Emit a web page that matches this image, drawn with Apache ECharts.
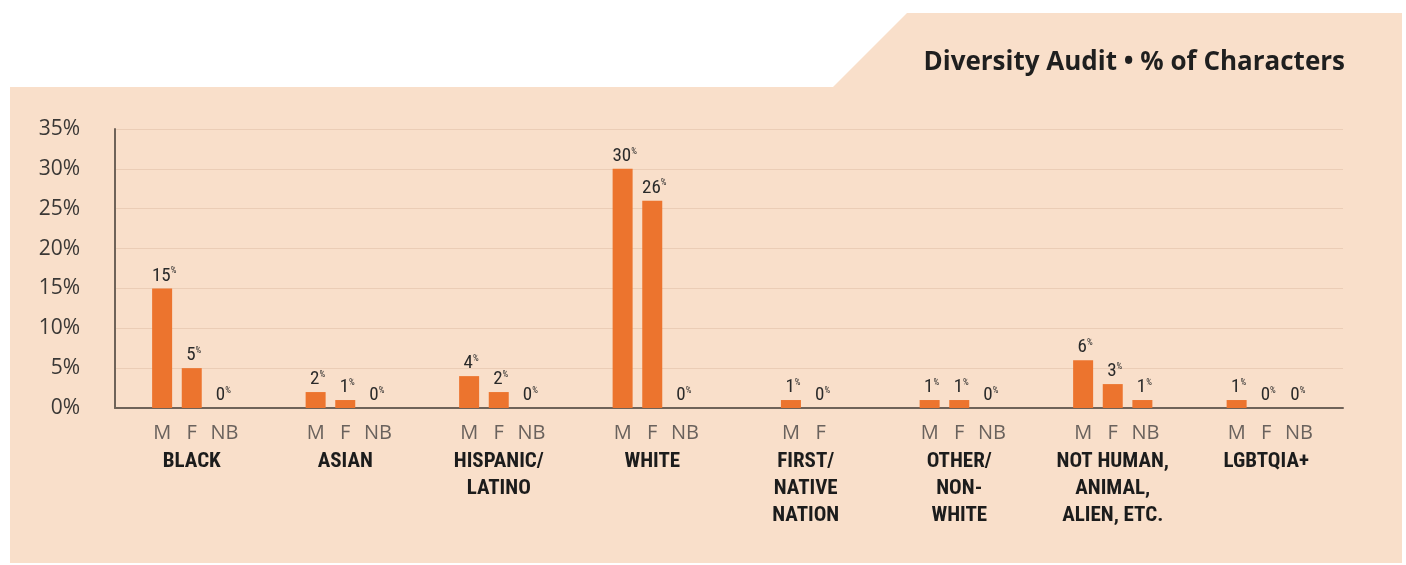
<!DOCTYPE html>
<html>
<head>
<meta charset="utf-8">
<style>
  html, body { margin: 0; padding: 0; background: #ffffff; }
  #chart { width: 1406px; height: 565px; }
</style>
<script src="https://cdn.jsdelivr.net/npm/echarts@6/dist/echarts.min.js"></script>
</head>
<body>
<div id="chart"></div>
<script>
// ---- data ----
const categories = ['BLACK', 'ASIAN', 'HISPANIC/\nLATINO', 'WHITE', 'FIRST/\nNATIVE\nNATION', 'OTHER/\nNON-\nWHITE', 'NOT HUMAN,\nANIMAL,\nALIEN, ETC.', 'LGBTQIA+'];
const sexLabels = ['M', 'F', 'NB'];
const maleValues = [15, 2, 4, 30, 1, 1, 6, 1];
const femaleValues = [5, 1, 2, 26, 0, 1, 3, 0];
const nonBinaryValues = [0, 0, 0, 0, null, 0, 1, 0];
const yTickValues = [0, 5, 10, 15, 20, 25, 30, 35];
const titleText = 'Diversity Audit \u2022 % of Characters';

// ---- build items: [groupIndex, value, slotIndex, slotCount, sexIndex] ----
const seriesBySex = [maleValues, femaleValues, nonBinaryValues];
const items = [];
categories.forEach((c, g) => {
  const present = [];
  seriesBySex.forEach((arr, s) => { if (arr[g] !== null && arr[g] !== undefined) present.push(s); });
  present.forEach((s, k) => items.push([g, seriesBySex[s][g], k, present.length, s]));
});

const BAR_COLOR = '#ec742e';
const NARROW = "'Roboto Condensed', 'Liberation Sans Narrow', 'DejaVu Sans Condensed', Roboto, sans-serif";

const chart = echarts.init(document.getElementById('chart'), null, { renderer: 'canvas' });
chart.setOption({
  backgroundColor: '#ffffff',
  animation: false,
  graphic: [{
    type: 'polygon',
    z: -10,
    silent: true,
    shape: { points: [[10, 87], [833, 87], [907, 13], [1402, 13], [1402, 563], [10, 563]] },
    style: { fill: '#f9dfca' }
  }],
  title: {
    text: titleText,
    right: 56,
    top: 45,
    textStyle: { fontFamily: "'Open Sans', sans-serif", fontWeight: 'bold', fontSize: 26, color: '#1f1f1f' }
  },
  grid: { left: 115, right: 63, top: 129, bottom: 157, containLabel: false },
  xAxis: {
    type: 'category',
    data: categories,
    axisLine: { show: true, lineStyle: { color: '#6f6359', width: 2 } },
    axisTick: { show: false },
    axisLabel: {
      interval: 0,
      margin: 40,
      verticalAlign: 'top',
      lineHeight: 27,
      fontFamily: NARROW,
      fontWeight: 'bold',
      fontSize: 21,
      color: '#1c1c1c'
    },
    splitLine: { show: false }
  },
  yAxis: {
    type: 'value',
    min: 0,
    max: 35,
    interval: 5,
    axisLine: { show: true, lineStyle: { color: '#6f6359', width: 2 } },
    axisTick: { show: false },
    axisLabel: {
      margin: 35,
      formatter: v => yTickValues.includes(v) ? v + '%' : '',
      fontFamily: "'Open Sans', sans-serif",
      fontSize: 21,
      color: '#3b3836'
    },
    splitLine: { show: true, lineStyle: { color: '#ebcdb6', width: 1 } }
  },
  series: [{
    type: 'custom',
    clip: false,
    data: items,
    encode: { x: 0, y: 1 },
    renderItem: function (params, api) {
      const g = api.value(0), v = api.value(1), k = api.value(2), n = api.value(3), s = api.value(4);
      const top = api.coord([g, v]);
      const base = api.coord([g, 0]);
      const band = api.size([1, 0])[0];
      const step = band * 0.193;
      const bw = 20;
      const cx = top[0] + (k - (n - 1) / 2) * step;
      return {
        type: 'group',
        children: [
          {
            type: 'rect',
            shape: { x: cx - bw / 2, y: top[1], width: bw, height: base[1] - top[1] },
            style: { fill: BAR_COLOR }
          },
          {
            type: 'text',
            style: {
              text: '{v|' + v + '}{p|%}',
              x: cx + 2,
              y: top[1] - 3,
              align: 'center',
              verticalAlign: 'bottom',
              rich: {
                v: { fontFamily: NARROW, fontSize: 19, fill: '#2a2a2a' },
                p: { fontFamily: NARROW, fontSize: 9, fill: '#2a2a2a', verticalAlign: 'top', padding: [0, 0, 8, 0] }
              }
            }
          },
          {
            type: 'text',
            style: {
              text: sexLabels[s],
              x: cx + (s === 2 ? 3 : 0),
              y: base[1] + 25,
              align: 'center',
              verticalAlign: 'middle',
              fontFamily: "'Open Sans', sans-serif",
              fontSize: 20,
              fill: '#6a625d'
            }
          }
        ]
      };
    }
  }]
});
</script>
</body>
</html>
